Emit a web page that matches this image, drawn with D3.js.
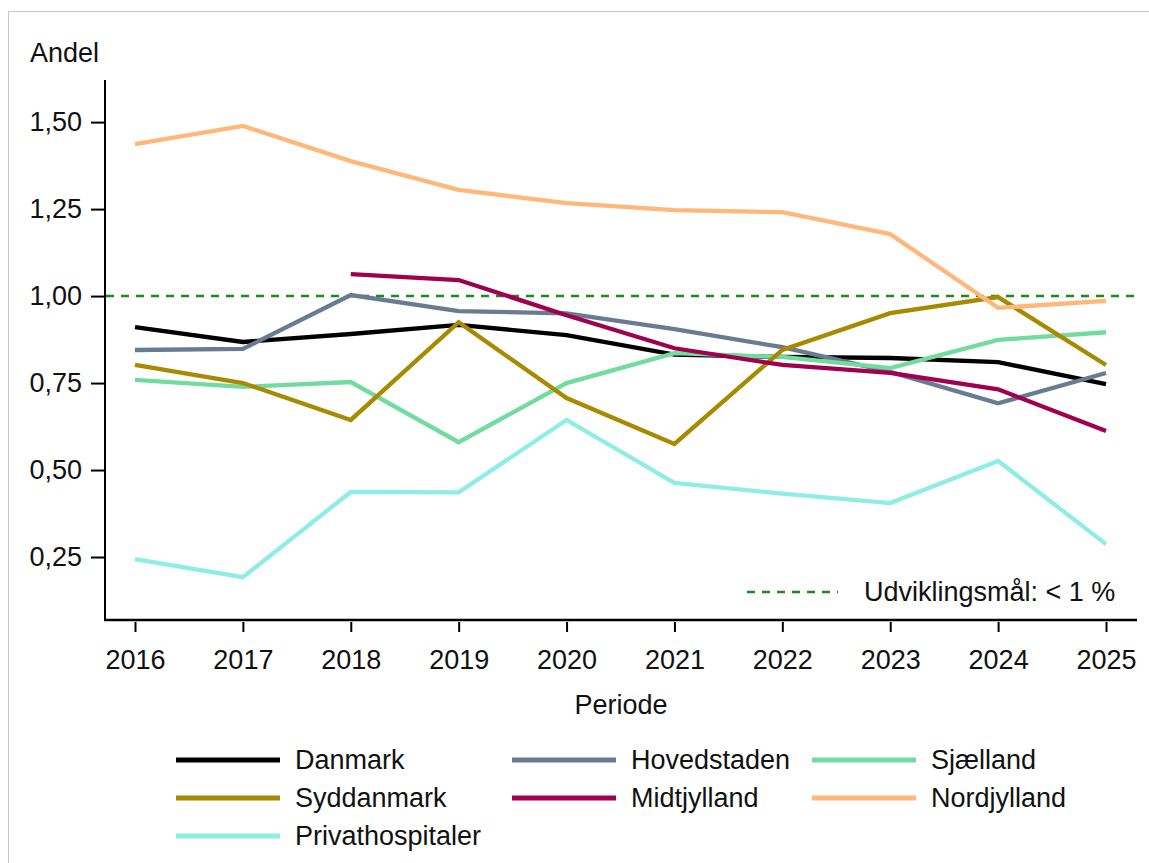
<!DOCTYPE html>
<html><head><meta charset="utf-8">
<script src="https://cdn.jsdelivr.net/npm/d3@7"></script>
<style>
html,body{margin:0;padding:0;background:#fff;}
svg{display:block;font-family:"Liberation Sans",Arial,sans-serif;}
</style></head>
<body><svg id="c" width="1149" height="863"></svg>
<script>
const years = [2016,2017,2018,2019,2020,2021,2022,2023,2024,2025];
const yTicks = [0.25,0.50,0.75,1.00,1.25,1.50];
const seriesNames = ["Danmark","Hovedstaden","Sjælland","Syddanmark","Midtjylland","Nordjylland","Privathospitaler"];
const colors = ["#000000","#687B90","#72DBA0","#A88A00","#A1004F","#FFB87A","#8EEDE5"];
const danmark =        [0.911,0.868,0.891,0.917,0.888,0.832,0.825,0.822,0.810,0.747];
const hovedstaden =    [0.845,0.848,1.003,0.957,0.950,0.905,0.853,0.782,0.692,0.779];
const sjaelland =      [0.759,0.739,0.753,0.580,0.750,0.836,0.825,0.793,0.874,0.896];
const syddanmark =     [0.802,0.750,0.644,0.925,0.707,0.575,0.845,0.951,0.997,0.802];
const midtjylland =    [null,null,1.063,1.046,0.945,0.850,0.802,0.779,0.732,0.612];
const nordjylland =    [1.437,1.489,1.388,1.305,1.267,1.247,1.241,1.178,0.966,0.986];
const privathospitaler=[0.244,0.192,0.437,0.436,0.644,0.463,0.432,0.405,0.526,0.287];
const target = 1.0;
const targetLabel = "Udviklingsmål: < 1 %";
const yTitle = "Andel";
const xTitle = "Periode";

const allSeries = [danmark,hovedstaden,sjaelland,syddanmark,midtjylland,nordjylland,privathospitaler];
const FS = 27;
const TXT = "#111";

const svg = d3.select("#c");
// outer frame
svg.append("rect").attr("x",8.5).attr("y",11.5).attr("width",1160).attr("height",870)
  .attr("fill","none").attr("stroke","#c8c8c8").attr("stroke-width",1);

const x = d3.scalePoint().domain(years).range([135,1106]);
const y = d3.scaleLinear().domain([0.069,1.621]).range([620,80]);

// axes
const fmt = d3.format(".2f");
const yAxis = d3.axisLeft(y).tickValues(yTicks).tickSize(14).tickPadding(9)
  .tickFormat(d=>fmt(d).replace(".",","));
const gy = svg.append("g").attr("transform","translate(105,0)").call(yAxis);
gy.attr("font-family",null).attr("font-size",null);
gy.select(".domain").attr("d","M0,80V621").attr("stroke","#000").attr("stroke-width",2);
gy.selectAll(".tick line").attr("stroke","#000").attr("stroke-width",2);
gy.selectAll(".tick text").attr("font-size",FS).attr("fill",TXT);

const xAxis = d3.axisBottom(x).tickSize(12).tickPadding(18).tickFormat(d=>String(d));
const gx = svg.append("g").attr("transform","translate(0,620)").call(xAxis);
gx.attr("font-family",null).attr("font-size",null);
gx.select(".domain").attr("d","M104,0H1137").attr("stroke","#000").attr("stroke-width",2.5);
gx.selectAll(".tick line").attr("stroke","#000").attr("stroke-width",2).attr("y1",2);
gx.selectAll(".tick text").attr("font-size",FS).attr("fill",TXT);

svg.append("text").attr("x",30).attr("y",62).attr("font-size",FS).attr("fill",TXT).text(yTitle);
svg.append("text").attr("x",621).attr("y",714).attr("text-anchor","middle").attr("font-size",FS).attr("fill",TXT).text(xTitle);

// target line
svg.append("line").attr("x1",106).attr("x2",1139).attr("y1",y(target)).attr("y2",y(target))
  .attr("stroke","#1a8c1a").attr("stroke-width",2.5).attr("stroke-dasharray","8,7");

// series lines
const line = d3.line().defined(d=>d.v!=null).x(d=>x(d.year)).y(d=>y(d.v));
allSeries.forEach((vals,i)=>{
  const data = years.map((yr,j)=>({year:yr,v:vals[j]}));
  svg.append("path").datum(data).attr("d",line).attr("fill","none")
    .attr("stroke",colors[i]).attr("stroke-width",4.3).attr("stroke-linejoin","miter");
});

// annotation legend
svg.append("line").attr("x1",747).attr("x2",838).attr("y1",592).attr("y2",592)
  .attr("stroke","#1a8c1a").attr("stroke-width",2.5).attr("stroke-dasharray","8,7");
svg.append("text").attr("x",864).attr("y",601).attr("font-size",FS).attr("fill",TXT).text(targetLabel);

// legend
const legX = [176,512,812];
const legY = [760,798,836];
seriesNames.forEach((n,i)=>{
  const cx = legX[i%3], cy = legY[Math.floor(i/3)];
  svg.append("line").attr("x1",cx).attr("x2",cx+104).attr("y1",cy).attr("y2",cy)
    .attr("stroke",colors[i]).attr("stroke-width",5);
  svg.append("text").attr("x",cx+119).attr("y",cy+9).attr("font-size",FS).attr("fill",TXT).text(n);
});
</script></body></html>
